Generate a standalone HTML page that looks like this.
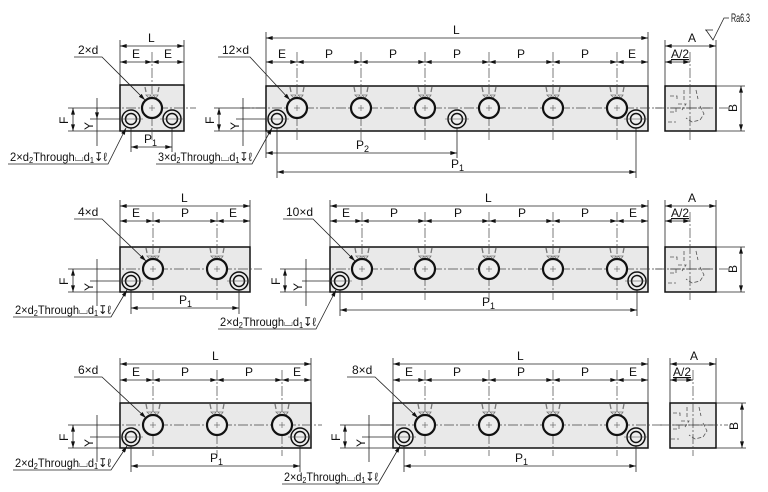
<!DOCTYPE html>
<html><head><meta charset="utf-8"><style>
html,body{margin:0;padding:0;background:#fff}
svg{display:block}
text{font-family:"Liberation Sans Narrow","Liberation Sans",sans-serif;font-size:12px;fill:#111}
.b{fill:#e9e9e9;stroke:#111;stroke-width:1.5}
.d{stroke:#222;stroke-width:.8;fill:none}
.dm{stroke:#222;stroke-width:.8;fill:none;marker-start:url(#a);marker-end:url(#a)}
.cl{stroke:#444;stroke-width:.7;fill:none;stroke-dasharray:10 2 2 2}
.hd{stroke:#555;stroke-width:.8;fill:none;stroke-dasharray:4 2}
</style></head><body>
<svg width="768" height="492" viewBox="0 0 768 492" xmlns="http://www.w3.org/2000/svg">
<defs>
<marker id="a" viewBox="0 0 10 6" refX="10" refY="3" markerWidth="8" markerHeight="4" orient="auto-start-reverse" markerUnits="userSpaceOnUse"><path d="M0,0L10,3L0,6z" fill="#111"/></marker>
<symbol id="h" overflow="visible"><g stroke="#777" stroke-width="1.3"><line x1="-7" y1="-21" x2="-6" y2="-16"/><line x1="7" y1="-21" x2="6" y2="-16"/><path d="M-6,-13h5l-2,3zM1,-13h5l-2,3z" fill="none" stroke-width=".8"/></g><circle r="10" fill="#eee" stroke="#111" stroke-width="2.2"/><line x1="-3" y1="0" x2="3" y2="0" stroke="#555" stroke-width=".6"/><line x1="0" y1="-3" x2="0" y2="3" stroke="#555" stroke-width=".6"/></symbol>
<symbol id="c" overflow="visible"><circle r="9" fill="#eee" stroke="#111" stroke-width="1.5"/><circle r="5.5" fill="none" stroke="#111" stroke-width="1.5"/><line x1="-12" y1="0" x2="12" y2="0" stroke="#444" stroke-width=".6"/></symbol>
<symbol id="s" overflow="visible"><path class="hd" d="M-20,-14h7v5M-20,2h6v-4M-22,12h8M-6,-20v10M6,-20l2,9M-12,-6h8l-4,6M10,-4l4,8-4,6-8,2-6-4"/><line x1="-20" y1="-2" x2="20" y2="-2" class="cl"/></symbol>
</defs>

<!-- ================= ROW 1 ================= -->
<line class="d" x1="120" y1="40" x2="120" y2="85"/><line class="d" x1="184" y1="40" x2="184" y2="85"/>
<line class="dm" x1="120" y1="46" x2="184" y2="46"/><text x="148" y="42">L</text>
<line class="dm" x1="120" y1="62" x2="152" y2="62"/><line class="dm" x1="184" y1="62" x2="152" y2="62"/>
<text x="132" y="58">E</text><text x="164" y="58">E</text>
<rect class="b" x="120" y="85" width="64" height="46"/>
<line class="cl" x1="110" y1="108" x2="196" y2="108"/>
<line class="cl" x1="152" y1="52" x2="152" y2="140"/>
<line class="d" x1="131" y1="112" x2="131" y2="152"/><line class="d" x1="172" y1="112" x2="172" y2="152"/>
<use href="#h" x="152" y="108"/><use href="#c" x="131" y="119"/><use href="#c" x="172" y="119"/>
<line class="dm" x1="131" y1="147" x2="172" y2="147"/><text x="144" y="143">P<tspan font-size="9" dy="3">1</tspan></text>
<line class="d" x1="68" y1="108" x2="120" y2="108"/><line class="d" x1="90" y1="119" x2="120" y2="119"/><line class="d" x1="68" y1="131" x2="120" y2="131"/>
<line class="dm" x1="73" y1="108" x2="73" y2="131"/><text transform="translate(68,124) rotate(-90)">F</text>
<line class="d" x1="97" y1="98" x2="97" y2="146"/><line class="dm" x1="97" y1="108" x2="97" y2="119" style="marker-start:none"/><text transform="translate(93,130) rotate(-90)">Y</text>
<text x="78" y="54">2×d</text><path class="d" d="M74,57h28L145,100" style="marker-end:url(#a)"/>
<text x="10" y="161" font-size="11" textLength="97" lengthAdjust="spacingAndGlyphs">2×d<tspan font-size="8" dy="2">2</tspan><tspan dy="-2">Through⌴d</tspan><tspan font-size="8" dy="2">1</tspan><tspan dy="-2">↧ℓ</tspan></text>
<path class="d" d="M8,164h100L126,128" style="marker-end:url(#a)"/>

<line class="d" x1="266" y1="32" x2="266" y2="86"/><line class="d" x1="648" y1="32" x2="648" y2="86"/>
<line class="dm" x1="266" y1="38" x2="648" y2="38"/><text x="453" y="34">L</text>
<line class="dm" x1="266" y1="62" x2="297" y2="62"/><line class="dm" x1="297" y1="62" x2="361" y2="62"/><line class="dm" x1="361" y1="62" x2="425" y2="62"/><line class="dm" x1="425" y1="62" x2="489" y2="62"/><line class="dm" x1="489" y1="62" x2="553" y2="62"/><line class="dm" x1="553" y1="62" x2="617" y2="62"/><line class="dm" x1="617" y1="62" x2="648" y2="62"/>
<text x="278" y="58">E</text><text x="325" y="58">P</text><text x="389" y="58">P</text><text x="453" y="58">P</text><text x="517" y="58">P</text><text x="581" y="58">P</text><text x="628" y="58">E</text>
<rect class="b" x="266" y="86" width="382" height="45"/>
<line class="cl" x1="240" y1="108" x2="662" y2="108"/>
<g class="cl"><line x1="297" y1="52" x2="297" y2="140"/><line x1="361" y1="52" x2="361" y2="140"/><line x1="425" y1="52" x2="425" y2="140"/><line x1="489" y1="52" x2="489" y2="140"/><line x1="553" y1="52" x2="553" y2="140"/><line x1="617" y1="52" x2="617" y2="140"/></g>
<line class="d" x1="277" y1="112" x2="277" y2="178"/><line class="d" x1="457" y1="112" x2="457" y2="158"/><line class="d" x1="636" y1="112" x2="636" y2="178"/>
<use href="#h" x="297" y="108"/><use href="#h" x="361" y="108"/><use href="#h" x="425" y="108"/><use href="#h" x="489" y="108"/><use href="#h" x="553" y="108"/><use href="#h" x="617" y="108"/>
<use href="#c" x="277" y="119"/><use href="#c" x="457" y="119"/><use href="#c" x="636" y="119"/>
<line class="d" x1="214" y1="108" x2="266" y2="108"/><line class="d" x1="236" y1="119" x2="266" y2="119"/><line class="d" x1="214" y1="131" x2="266" y2="131"/>
<line class="dm" x1="219" y1="108" x2="219" y2="131"/><text transform="translate(214,124) rotate(-90)">F</text>
<line class="d" x1="243" y1="98" x2="243" y2="146"/><text transform="translate(239,130) rotate(-90)">Y</text>
<line class="d" x1="266" y1="131" x2="266" y2="158"/>
<line class="dm" x1="266" y1="153" x2="457" y2="153"/><text x="356" y="149">P<tspan font-size="9" dy="3">2</tspan></text>
<line class="dm" x1="277" y1="172" x2="636" y2="172"/><text x="451" y="168">P<tspan font-size="9" dy="3">1</tspan></text>
<text x="222" y="54">12×d</text><path class="d" d="M218,57h32L290,100" style="marker-end:url(#a)"/>
<text x="158" y="161" font-size="11" textLength="94" lengthAdjust="spacingAndGlyphs">3×d<tspan font-size="8" dy="2">2</tspan><tspan dy="-2">Through⌴d</tspan><tspan font-size="8" dy="2">1</tspan><tspan dy="-2">↧ℓ</tspan></text>
<path class="d" d="M156,164h96L272,128" style="marker-end:url(#a)"/>

<path d="M705,30h8M706,30l7,10l11,-22h5" class="d"/><text x="731" y="22" font-size="9" textLength="19" lengthAdjust="spacingAndGlyphs">Ra6.3</text>
<line class="d" x1="665" y1="40" x2="665" y2="86"/><line class="d" x1="716" y1="40" x2="716" y2="86"/>
<line class="dm" x1="665" y1="46" x2="716" y2="46"/><text x="688" y="42">A</text>
<line class="dm" x1="665" y1="62" x2="690" y2="62"/><text x="671" y="58" text-decoration="underline">A/2</text>
<rect class="b" x="665" y="86" width="51" height="45"/>
<use href="#s" x="690" y="110"/>
<line class="cl" x1="655" y1="108" x2="728" y2="108"/><line class="cl" x1="690" y1="52" x2="690" y2="140"/>
<line class="d" x1="716" y1="86" x2="745" y2="86"/><line class="d" x1="716" y1="131" x2="745" y2="131"/>
<line class="dm" x1="741" y1="86" x2="741" y2="131"/><text transform="translate(737,112) rotate(-90)">B</text>

<!-- ================= ROW 2 ================= -->
<line class="d" x1="120" y1="200" x2="120" y2="247"/><line class="d" x1="250" y1="200" x2="250" y2="247"/>
<line class="dm" x1="120" y1="206" x2="250" y2="206"/><text x="181" y="202">L</text>
<line class="dm" x1="120" y1="221" x2="153" y2="221"/><line class="dm" x1="153" y1="221" x2="217" y2="221"/><line class="dm" x1="217" y1="221" x2="250" y2="221"/>
<text x="132" y="217">E</text><text x="181" y="217">P</text><text x="229" y="217">E</text>
<rect class="b" x="120" y="247" width="130" height="45"/>
<line class="cl" x1="110" y1="269" x2="262" y2="269"/>
<g class="cl"><line x1="153" y1="212" x2="153" y2="300"/><line x1="217" y1="212" x2="217" y2="300"/></g>
<line class="d" x1="131" y1="272" x2="131" y2="314"/><line class="d" x1="239" y1="272" x2="239" y2="314"/>
<use href="#h" x="153" y="269"/><use href="#h" x="217" y="269"/><use href="#c" x="131" y="281"/><use href="#c" x="239" y="281"/>
<line class="dm" x1="131" y1="308" x2="239" y2="308"/><text x="179" y="304">P<tspan font-size="9" dy="3">1</tspan></text>
<line class="d" x1="68" y1="269" x2="120" y2="269"/><line class="d" x1="90" y1="281" x2="120" y2="281"/><line class="d" x1="68" y1="292" x2="120" y2="292"/>
<line class="dm" x1="73" y1="269" x2="73" y2="292"/><text transform="translate(68,285) rotate(-90)">F</text>
<line class="d" x1="97" y1="259" x2="97" y2="306"/><text transform="translate(93,291) rotate(-90)">Y</text>
<text x="78" y="216">4×d</text><path class="d" d="M74,219h28L146,261" style="marker-end:url(#a)"/>
<text x="15" y="314" font-size="11" textLength="96" lengthAdjust="spacingAndGlyphs">2×d<tspan font-size="8" dy="2">2</tspan><tspan dy="-2">Through⌴d</tspan><tspan font-size="8" dy="2">1</tspan><tspan dy="-2">↧ℓ</tspan></text>
<path class="d" d="M13,317h98L127,290" style="marker-end:url(#a)"/>

<line class="d" x1="330" y1="200" x2="330" y2="247"/><line class="d" x1="648" y1="200" x2="648" y2="247"/>
<line class="dm" x1="330" y1="206" x2="648" y2="206"/><text x="485" y="202">L</text>
<line class="dm" x1="330" y1="221" x2="362" y2="221"/><line class="dm" x1="362" y1="221" x2="425" y2="221"/><line class="dm" x1="425" y1="221" x2="489" y2="221"/><line class="dm" x1="489" y1="221" x2="553" y2="221"/><line class="dm" x1="553" y1="221" x2="617" y2="221"/><line class="dm" x1="617" y1="221" x2="648" y2="221"/>
<text x="342" y="217">E</text><text x="390" y="217">P</text><text x="454" y="217">P</text><text x="518" y="217">P</text><text x="581" y="217">P</text><text x="629" y="217">E</text>
<rect class="b" x="330" y="247" width="318" height="45"/>
<line class="cl" x1="320" y1="269" x2="662" y2="269"/>
<g class="cl"><line x1="362" y1="212" x2="362" y2="300"/><line x1="425" y1="212" x2="425" y2="300"/><line x1="489" y1="212" x2="489" y2="300"/><line x1="553" y1="212" x2="553" y2="300"/><line x1="617" y1="212" x2="617" y2="300"/></g>
<line class="d" x1="340" y1="272" x2="340" y2="316"/><line class="d" x1="637" y1="272" x2="637" y2="316"/>
<use href="#h" x="362" y="269"/><use href="#h" x="425" y="269"/><use href="#h" x="489" y="269"/><use href="#h" x="553" y="269"/><use href="#h" x="617" y="269"/>
<use href="#c" x="340" y="281"/><use href="#c" x="637" y="281"/>
<line class="dm" x1="340" y1="310" x2="637" y2="310"/><text x="482" y="306">P<tspan font-size="9" dy="3">1</tspan></text>
<line class="d" x1="280" y1="269" x2="330" y2="269"/><line class="d" x1="302" y1="281" x2="330" y2="281"/><line class="d" x1="280" y1="292" x2="330" y2="292"/>
<line class="dm" x1="285" y1="269" x2="285" y2="292"/><text transform="translate(280,285) rotate(-90)">F</text>
<line class="d" x1="306" y1="259" x2="306" y2="306"/><text transform="translate(302,291) rotate(-90)">Y</text>
<text x="286" y="216">10×d</text><path class="d" d="M283,219h30L355,261" style="marker-end:url(#a)"/>
<text x="220" y="326" font-size="11" textLength="96" lengthAdjust="spacingAndGlyphs">2×d<tspan font-size="8" dy="2">2</tspan><tspan dy="-2">Through⌴d</tspan><tspan font-size="8" dy="2">1</tspan><tspan dy="-2">↧ℓ</tspan></text>
<path class="d" d="M218,329h98L336,290" style="marker-end:url(#a)"/>

<line class="d" x1="665" y1="200" x2="665" y2="247"/><line class="d" x1="716" y1="200" x2="716" y2="247"/>
<line class="dm" x1="665" y1="206" x2="716" y2="206"/><text x="688" y="202">A</text>
<line class="dm" x1="665" y1="221" x2="690" y2="221"/><text x="671" y="217" text-decoration="underline">A/2</text>
<rect class="b" x="665" y="247" width="51" height="45"/>
<use href="#s" x="690" y="271"/>
<line class="cl" x1="655" y1="269" x2="728" y2="269"/><line class="cl" x1="690" y1="212" x2="690" y2="300"/>
<line class="d" x1="716" y1="247" x2="745" y2="247"/><line class="d" x1="716" y1="292" x2="745" y2="292"/>
<line class="dm" x1="741" y1="247" x2="741" y2="292"/><text transform="translate(737,273) rotate(-90)">B</text>

<!-- ================= ROW 3 ================= -->
<line class="d" x1="120" y1="358" x2="120" y2="403"/><line class="d" x1="311" y1="358" x2="311" y2="403"/>
<line class="dm" x1="120" y1="364" x2="311" y2="364"/><text x="212" y="360">L</text>
<line class="dm" x1="120" y1="380" x2="153" y2="380"/><line class="dm" x1="153" y1="380" x2="217" y2="380"/><line class="dm" x1="217" y1="380" x2="282" y2="380"/><line class="dm" x1="282" y1="380" x2="311" y2="380"/>
<text x="132" y="376">E</text><text x="181" y="376">P</text><text x="245" y="376">P</text><text x="293" y="376">E</text>
<rect class="b" x="120" y="403" width="191" height="45"/>
<line class="cl" x1="110" y1="425" x2="322" y2="425"/>
<g class="cl"><line x1="153" y1="370" x2="153" y2="456"/><line x1="217" y1="370" x2="217" y2="456"/><line x1="282" y1="370" x2="282" y2="456"/></g>
<line class="d" x1="131" y1="428" x2="131" y2="472"/><line class="d" x1="300" y1="428" x2="300" y2="472"/>
<use href="#h" x="153" y="425"/><use href="#h" x="217" y="425"/><use href="#h" x="282" y="425"/><use href="#c" x="131" y="437"/><use href="#c" x="300" y="437"/>
<line class="dm" x1="131" y1="466" x2="300" y2="466"/><text x="210" y="462">P<tspan font-size="9" dy="3">1</tspan></text>
<line class="d" x1="68" y1="425" x2="120" y2="425"/><line class="d" x1="90" y1="437" x2="120" y2="437"/><line class="d" x1="68" y1="448" x2="120" y2="448"/>
<line class="dm" x1="73" y1="425" x2="73" y2="448"/><text transform="translate(68,441) rotate(-90)">F</text>
<line class="d" x1="97" y1="415" x2="97" y2="462"/><text transform="translate(93,447) rotate(-90)">Y</text>
<text x="78" y="374">6×d</text><path class="d" d="M74,377h28L146,418" style="marker-end:url(#a)"/>
<text x="15" y="467" font-size="11" textLength="96" lengthAdjust="spacingAndGlyphs">2×d<tspan font-size="8" dy="2">2</tspan><tspan dy="-2">Through⌴d</tspan><tspan font-size="8" dy="2">1</tspan><tspan dy="-2">↧ℓ</tspan></text>
<path class="d" d="M13,470h98L127,446" style="marker-end:url(#a)"/>

<line class="d" x1="393" y1="358" x2="393" y2="403"/><line class="d" x1="648" y1="358" x2="648" y2="403"/>
<line class="dm" x1="393" y1="364" x2="648" y2="364"/><text x="517" y="360">L</text>
<line class="dm" x1="393" y1="380" x2="425" y2="380"/><line class="dm" x1="425" y1="380" x2="489" y2="380"/><line class="dm" x1="489" y1="380" x2="553" y2="380"/><line class="dm" x1="553" y1="380" x2="617" y2="380"/><line class="dm" x1="617" y1="380" x2="648" y2="380"/>
<text x="405" y="376">E</text><text x="453" y="376">P</text><text x="517" y="376">P</text><text x="581" y="376">P</text><text x="629" y="376">E</text>
<rect class="b" x="393" y="403" width="255" height="45"/>
<line class="cl" x1="380" y1="425" x2="662" y2="425"/>
<g class="cl"><line x1="425" y1="370" x2="425" y2="456"/><line x1="489" y1="370" x2="489" y2="456"/><line x1="553" y1="370" x2="553" y2="456"/><line x1="617" y1="370" x2="617" y2="456"/></g>
<line class="d" x1="404" y1="428" x2="404" y2="472"/><line class="d" x1="636" y1="428" x2="636" y2="472"/>
<use href="#h" x="425" y="425"/><use href="#h" x="489" y="425"/><use href="#h" x="553" y="425"/><use href="#h" x="617" y="425"/>
<use href="#c" x="404" y="437"/><use href="#c" x="636" y="437"/>
<line class="dm" x1="404" y1="466" x2="636" y2="466"/><text x="515" y="462">P<tspan font-size="9" dy="3">1</tspan></text>
<line class="d" x1="340" y1="425" x2="393" y2="425"/><line class="d" x1="362" y1="437" x2="393" y2="437"/><line class="d" x1="340" y1="448" x2="393" y2="448"/>
<line class="dm" x1="345" y1="425" x2="345" y2="448"/><text transform="translate(340,441) rotate(-90)">F</text>
<line class="d" x1="369" y1="415" x2="369" y2="462"/><text transform="translate(365,447) rotate(-90)">Y</text>
<text x="352" y="374">8×d</text><path class="d" d="M347,377h28L418,418" style="marker-end:url(#a)"/>
<text x="284" y="481" font-size="11" textLength="94" lengthAdjust="spacingAndGlyphs">2×d<tspan font-size="8" dy="2">2</tspan><tspan dy="-2">Through⌴d</tspan><tspan font-size="8" dy="2">1</tspan><tspan dy="-2">↧ℓ</tspan></text>
<path class="d" d="M282,484h96L400,446" style="marker-end:url(#a)"/>

<line class="d" x1="670" y1="358" x2="670" y2="403"/><line class="d" x1="716" y1="358" x2="716" y2="403"/>
<line class="dm" x1="670" y1="364" x2="716" y2="364"/><text x="690" y="360">A</text>
<line class="dm" x1="670" y1="380" x2="693" y2="380"/><text x="673" y="376" text-decoration="underline">A/2</text>
<rect class="b" x="670" y="403" width="46" height="45"/>
<use href="#s" x="693" y="427"/>
<line class="cl" x1="660" y1="425" x2="728" y2="425"/><line class="cl" x1="693" y1="370" x2="693" y2="456"/>
<line class="d" x1="716" y1="403" x2="746" y2="403"/><line class="d" x1="716" y1="448" x2="746" y2="448"/>
<line class="dm" x1="742" y1="403" x2="742" y2="448"/><text transform="translate(738,430) rotate(-90)">B</text>
</svg>
</body></html>
